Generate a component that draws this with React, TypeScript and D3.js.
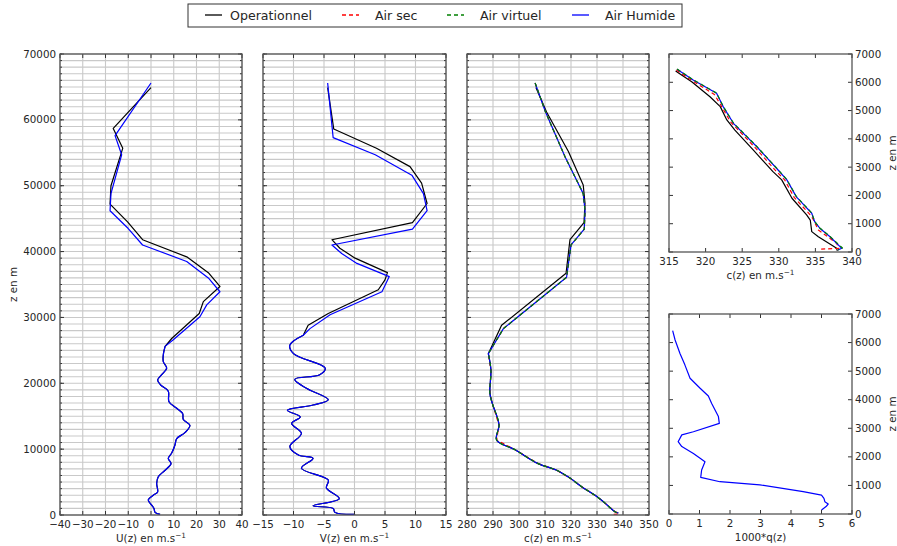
import React from 'react';
import * as d3 from 'd3';

// ---------- DATA ([z in m, value]) ----------
// U(z) wind component
const uOpHigh: [number, number][] = [
  [64900, 0], [58700, -16.6], [55700, -12.4], [50000, -17.6], [47200, -18], [44500, -10.3],
  [41800, -3.7], [39200, 15.7], [36800, 25.2], [34700, 30.3], [32400, 23], [30600, 21.2], [26800, 9.1],
];
const uModHigh: [number, number][] = [
  [65600, 0], [57600, -15.8], [54700, -12.9], [48800, -17.6], [46200, -18], [43500, -10],
  [41000, -3.7], [38500, 15.7], [36000, 25.2], [33900, 30.3], [31900, 24.5], [30100, 21.5], [26600, 9.8],
];
const uLow: [number, number][] = [
  [25600, 6.2], [24300, 5.4], [23300, 5.4], [22300, 6.9], [21300, 4.7], [20500, 2.9], [19700, 4.4],
  [18800, 7.6], [17200, 7.9], [16200, 11.3], [15400, 13.9], [14500, 14.2], [13600, 17.1], [12500, 14.9],
  [11600, 11.3], [10600, 10.5], [9400, 9.1], [8600, 7.6], [7800, 8.8], [6800, 6.2], [5800, 3.2],
  [4800, 2.5], [3500, 2.9], [3000, 1.0], [2300, -1.2], [1500, 0.3], [1000, 1.3], [400, 1.8], [100, 4],
];

// V(z) wind component
const vOpHigh: [number, number][] = [
  [64900, -4.4], [58600, -3.4], [55700, 3.6], [52900, 9.1], [50400, 11.0], [47300, 11.9], [44400, 9.5],
  [41800, -3.7], [40500, -2.4], [39000, 0.1], [36800, 5.4], [35700, 5.0], [34200, 3.9], [30600, -4.3], [28800, -7.6],
];
const vModHigh: [number, number][] = [
  [65600, -4.4], [57300, -3.5], [54700, 3.4], [51600, 9.4], [48800, 11.3], [46200, 11.9], [43400, 9.5],
  [41000, -3.7], [39700, -2.1], [38200, 0.4], [36200, 5.7], [33900, 4.5], [30400, -4.0], [28300, -7.3],
];
const vLow: [number, number][] = [
  [27300, -8.4], [25800, -10.6], [24500, -10.0], [22300, -4.8], [21300, -5.7], [20600, -9.8], [19200, -7.8],
  [17500, -4.3], [16700, -6.8], [15900, -11.0], [14900, -8.9], [13900, -10.3], [12400, -8.7], [10400, -10.6],
  [9100, -9.2], [8600, -6.8], [7100, -8.7], [5300, -4.3], [4100, -4.6], [2500, -2.5], [1400, -6.8],
  [1000, -3.5], [400, -3.2], [100, 0.1],
];

// c(z) sound speed, full profile
const cOpHigh: [number, number][] = [
  [64900, 306.5], [61200, 310.6], [55200, 319], [50100, 324.7], [47300, 325.4], [44400, 325],
  [41800, 319.6], [36700, 318.1], [28800, 293.3],
];
const cModHigh: [number, number][] = [
  [65600, 306.2], [61200, 310.2], [54400, 317.7], [48800, 324.7], [46200, 325.4], [43400, 325.1],
  [41000, 320], [36100, 318.3], [28300, 294],
];
const cLow: [number, number][] = [
  [24500, 288.2], [22000, 289.2], [18500, 288.8], [17000, 289.7], [13700, 292.3], [11400, 291.4],
  [9900, 298.5], [7800, 307.4], [6800, 314.5], [5600, 319.6], [4300, 324.1], [2800, 329.9],
  [1800, 333.1], [500, 336.9], [300, 338.2],
];
const cLowDryHook: [number, number][] = [[150, 338.3], [100, 335.5]];

// c(z) low levels (zoom)
const cZoomOp: [number, number][] = [
  [6400, 315.9], [6020, 318.1], [5490, 320.6], [5140, 322.0], [4670, 322.9], [4310, 324.0], [3610, 326.5],
  [2840, 329.2], [2550, 330.4], [1900, 331.8], [1310, 333.8], [1130, 334.3], [720, 334.5], [540, 335.4],
  [250, 337.2], [130, 337.9], [40, 338.0],
];
const cZoomDry: [number, number][] = [
  [6430, 316.0], [6050, 318.2], [5570, 321.2], [5140, 322.2], [4600, 323.4], [3680, 326.8], [2870, 329.6],
  [2550, 330.8], [1930, 332.1], [1340, 334.2], [1200, 334.6], [780, 335.4], [310, 337.9], [130, 338.2], [100, 335.5],
];
const cZoomVirt: [number, number][] = [
  [6470, 316.1], [6090, 318.3], [5620, 321.5], [5150, 322.4], [4560, 323.8], [3730, 327.0], [2910, 329.9],
  [2560, 331.1], [1960, 332.4], [1380, 334.5], [1080, 334.9], [850, 335.6], [550, 337.0], [140, 338.7], [70, 338.1],
];
const cZoomHum: [number, number][] = [
  [6460, 316.1], [6080, 318.3], [5610, 321.5], [5140, 322.4], [4550, 323.8], [3720, 327.0], [2900, 329.9],
  [2550, 331.1], [1950, 332.4], [1370, 334.5], [1070, 334.9], [840, 335.6], [540, 337.0], [130, 338.6], [70, 338.1],
];

// humidity 1000*q(z)
const qHum: [number, number][] = [
  [6420, 0.12], [6090, 0.2], [5620, 0.36], [5220, 0.52], [4750, 0.69], [4400, 1.02], [4130, 1.29],
  [3870, 1.40], [3410, 1.62], [3170, 1.65], [2880, 0.8], [2770, 0.42], [2530, 0.3], [2360, 0.42],
  [2120, 0.8], [1950, 1.02], [1830, 1.18], [1540, 1.07], [1280, 1.04], [1130, 1.67], [1020, 2.98],
  [780, 4.4], [660, 5.0], [550, 5.08], [430, 5.11], [350, 5.22], [260, 5.15], [140, 5.0],
];

// ticks
const uTicks = [-40, -30, -20, -10, 0, 10, 20, 30, 40];
const vTicks = [-15, -10, -5, 0, 5, 10, 15];
const cTicks = [280, 290, 300, 310, 320, 330, 340, 350];
const zTicks = [0, 10000, 20000, 30000, 40000, 50000, 60000, 70000];
const cZoomTicks = [315, 320, 325, 330, 335, 340];
const qTicks = [0, 1, 2, 3, 4, 5, 6];
const zZoomTicks = [0, 1000, 2000, 3000, 4000, 5000, 6000, 7000];

const legendItems = [
  { label: 'Operationnel', color: '#000000', dash: '' },
  { label: 'Air sec', color: '#ff0000', dash: '4,3' },
  { label: 'Air virtuel', color: '#008000', dash: '4,3' },
  { label: 'Air Humide', color: '#0000ff', dash: '' },
];

const FONT = '"DejaVu Sans", sans-serif';
const TXT = '#262626';
const FS = 10.3;
const fmt = (v: number) => String(v).replace('-', '\u2212');

// high: drawn piecewise-linear; low: drawn smooth (fine sounding levels)
type Series = { high?: [number, number][]; low: [number, number][]; smoothLow?: boolean; color: string; dash?: string; width?: number };

type PanelProps = {
  x0: number; x1: number; y0: number; y1: number;
  xDomain: [number, number]; xTicks: number[];
  yDomain: [number, number]; yTicks: number[];
  grid: boolean; minorStep?: number;
  leftLabels: boolean; rightLabels: boolean;
  xLabel: React.ReactNode;
  series: Series[];
  clipId: string;
};

function Panel(p: PanelProps) {
  const x = d3.scaleLinear().domain(p.xDomain).range([p.x0, p.x1]);
  const y = d3.scaleLinear().domain(p.yDomain).range([p.y1, p.y0]);
  const lineLin = d3.line<[number, number]>().x((d) => x(d[1])).y((d) => y(d[0]));
  const lineSmooth = d3.line<[number, number]>().x((d) => x(d[1])).y((d) => y(d[0])).curve(d3.curveCatmullRom.alpha(0.5));
  const minors: number[] = [];
  if (p.minorStep) {
    for (let v = p.yDomain[0]; v <= p.yDomain[1] + 1e-6; v += p.minorStep) minors.push(v);
  }
  const pathFor = (s: Series) => {
    let d = '';
    if (s.high && s.high.length) d += lineLin([...s.high, s.low[0]]) || '';
    const lowPath = (s.smoothLow ? lineSmooth(s.low) : lineLin(s.low)) || '';
    d += s.high && s.high.length ? lowPath.replace(/^M/, 'L') : lowPath;
    return d;
  };
  return (
    <g>
      <defs>
        <clipPath id={p.clipId}>
          <rect x={p.x0} y={p.y0} width={p.x1 - p.x0} height={p.y1 - p.y0} />
        </clipPath>
      </defs>
      <rect x={p.x0} y={p.y0} width={p.x1 - p.x0} height={p.y1 - p.y0} fill="#fff" />
      {p.grid && minors.map((v) => (
        <line key={'hg' + v} x1={p.x0} x2={p.x1} y1={y(v)} y2={y(v)} stroke="#c9c9c9" strokeWidth={1.1} />
      ))}
      {p.grid && p.xTicks.map((v) => (
        <line key={'vg' + v} x1={x(v)} x2={x(v)} y1={p.y0} y2={p.y1} stroke="#c9c9c9" strokeWidth={1.1} />
      ))}
      <g clipPath={`url(#${p.clipId})`}>
        {p.series.map((s, i) => (
          <path key={i} d={pathFor(s)} fill="none" stroke={s.color} strokeWidth={s.width ?? 1.2}
            strokeLinejoin="round" strokeDasharray={s.dash || undefined} />
        ))}
      </g>
      {minors.map((v) => (
        <g key={'mt' + v}>
          <line x1={p.x0} x2={p.x0 + 2} y1={y(v)} y2={y(v)} stroke="#333" />
          <line x1={p.x1} x2={p.x1 - 2} y1={y(v)} y2={y(v)} stroke="#333" />
        </g>
      ))}
      {p.yTicks.map((v) => (
        <g key={'yt' + v}>
          <line x1={p.x0} x2={p.x0 + 4} y1={y(v)} y2={y(v)} stroke="#333" />
          <line x1={p.x1} x2={p.x1 - 4} y1={y(v)} y2={y(v)} stroke="#333" />
          {p.leftLabels && (
            <text x={p.x0 - 4} y={y(v)} dy="0.35em" textAnchor="end" fontSize={FS} fill={TXT} fontFamily={FONT}>{fmt(v)}</text>
          )}
          {p.rightLabels && (
            <text x={p.x1 + 3} y={y(v)} dy="0.35em" textAnchor="start" fontSize={FS} fill={TXT} fontFamily={FONT}>{fmt(v)}</text>
          )}
        </g>
      ))}
      {p.xTicks.map((v) => (
        <g key={'xt' + v}>
          <line x1={x(v)} x2={x(v)} y1={p.y1} y2={p.y1 - 4} stroke="#333" />
          <line x1={x(v)} x2={x(v)} y1={p.y0} y2={p.y0 + 4} stroke="#333" />
          <text x={x(v)} y={p.y1 + 12.5} textAnchor="middle" fontSize={FS} fill={TXT} fontFamily={FONT}>{fmt(v)}</text>
        </g>
      ))}
      <rect x={p.x0} y={p.y0} width={p.x1 - p.x0} height={p.y1 - p.y0} fill="none" stroke="#555" strokeWidth={1.3} />
      <text x={(p.x0 + p.x1) / 2} y={p.y1 + 27} textAnchor="middle" fontSize={FS} fill={TXT} fontFamily={FONT}>{p.xLabel}</text>
    </g>
  );
}

const msLabel = (name: string) => (
  <>
    {name} en m.s<tspan dy="-4" fontSize={7.3}>{'\u22121'}</tspan>
  </>
);

export default function App() {
  const W = 897, H = 546;
  const top = 54, bot = 515;
  return (
    <svg width={W} height={H} style={{ position: 'absolute', left: 0, top: 0, background: '#fff' }}>
      <rect x={0} y={0} width={W} height={H} fill="#fff" />
      <Panel x0={60} x1={242} y0={top} y1={bot} xDomain={[-40, 40]} xTicks={uTicks} yDomain={[0, 70000]} yTicks={zTicks}
        grid minorStep={1000} leftLabels rightLabels={false} xLabel={msLabel('U(z)')} clipId="c1"
        series={[
          { high: uOpHigh, low: uLow, smoothLow: true, color: '#000' },
          { high: uModHigh, low: uLow, smoothLow: true, color: '#0000ff' },
        ]} />
      <Panel x0={263} x1={446} y0={top} y1={bot} xDomain={[-15, 15]} xTicks={vTicks} yDomain={[0, 70000]} yTicks={zTicks}
        grid minorStep={1000} leftLabels={false} rightLabels={false} xLabel={msLabel('V(z)')} clipId="c2"
        series={[
          { high: vOpHigh, low: vLow, smoothLow: true, color: '#000' },
          { high: vModHigh, low: vLow, smoothLow: true, color: '#0000ff' },
        ]} />
      <Panel x0={467} x1={649} y0={top} y1={bot} xDomain={[280, 350]} xTicks={cTicks} yDomain={[0, 70000]} yTicks={zTicks}
        grid minorStep={1000} leftLabels={false} rightLabels={false} xLabel={msLabel('c(z)')} clipId="c3"
        series={[
          { high: cOpHigh, low: cLow, smoothLow: true, color: '#000' },
          { high: cModHigh, low: [...cLow, ...cLowDryHook], color: '#ff0000', dash: '4,3' },
          { high: cModHigh, low: cLow, smoothLow: true, color: '#0000ff' },
          { high: cModHigh, low: cLow, smoothLow: true, color: '#008000', dash: '4,3' },
        ]} />
      <Panel x0={669} x1={852} y0={54} y1={252} xDomain={[315, 340]} xTicks={cZoomTicks} yDomain={[0, 7000]} yTicks={zZoomTicks}
        grid={false} leftLabels={false} rightLabels xLabel={msLabel('c(z)')} clipId="c4"
        series={[
          { low: cZoomOp, color: '#000' },
          { low: cZoomDry, color: '#ff0000', dash: '4,3' },
          { low: cZoomHum, color: '#0000ff' },
          { low: cZoomVirt, color: '#008000', dash: '4,3' },
        ]} />
      <Panel x0={669} x1={852} y0={314} y1={514} xDomain={[0, 6]} xTicks={qTicks} yDomain={[0, 7000]} yTicks={zZoomTicks}
        grid={false} leftLabels={false} rightLabels xLabel={'1000*q(z)'} clipId="c5"
        series={[{ low: qHum, color: '#0000ff' }]} />

      <text transform={`translate(17,${(top + bot) / 2}) rotate(-90)`} textAnchor="middle" fontSize={FS} fill={TXT} fontFamily={FONT}>z en m</text>
      <text transform={`translate(896,${(54 + 252) / 2}) rotate(-90)`} textAnchor="middle" fontSize={FS} fill={TXT} fontFamily={FONT}>z en m</text>
      <text transform={`translate(896,${(314 + 514) / 2}) rotate(-90)`} textAnchor="middle" fontSize={FS} fill={TXT} fontFamily={FONT}>z en m</text>

      <rect x={188} y={4} width={494} height={23} fill="#fff" stroke="#333" strokeWidth={1} />
      {legendItems.map((it, i) => {
        const lx = [205, 342, 447, 572][i];
        const tx = [230, 375, 480, 605][i];
        return (
          <g key={it.label}>
            <line x1={lx} x2={lx + 17} y1={15} y2={15} stroke={it.color} strokeWidth={1.3} strokeDasharray={it.dash || undefined} />
            <text x={tx} y={15.5} dy="0.35em" fontSize={12.6} fill={TXT} fontFamily={FONT}>{it.label}</text>
          </g>
        );
      })}
    </svg>
  );
}
